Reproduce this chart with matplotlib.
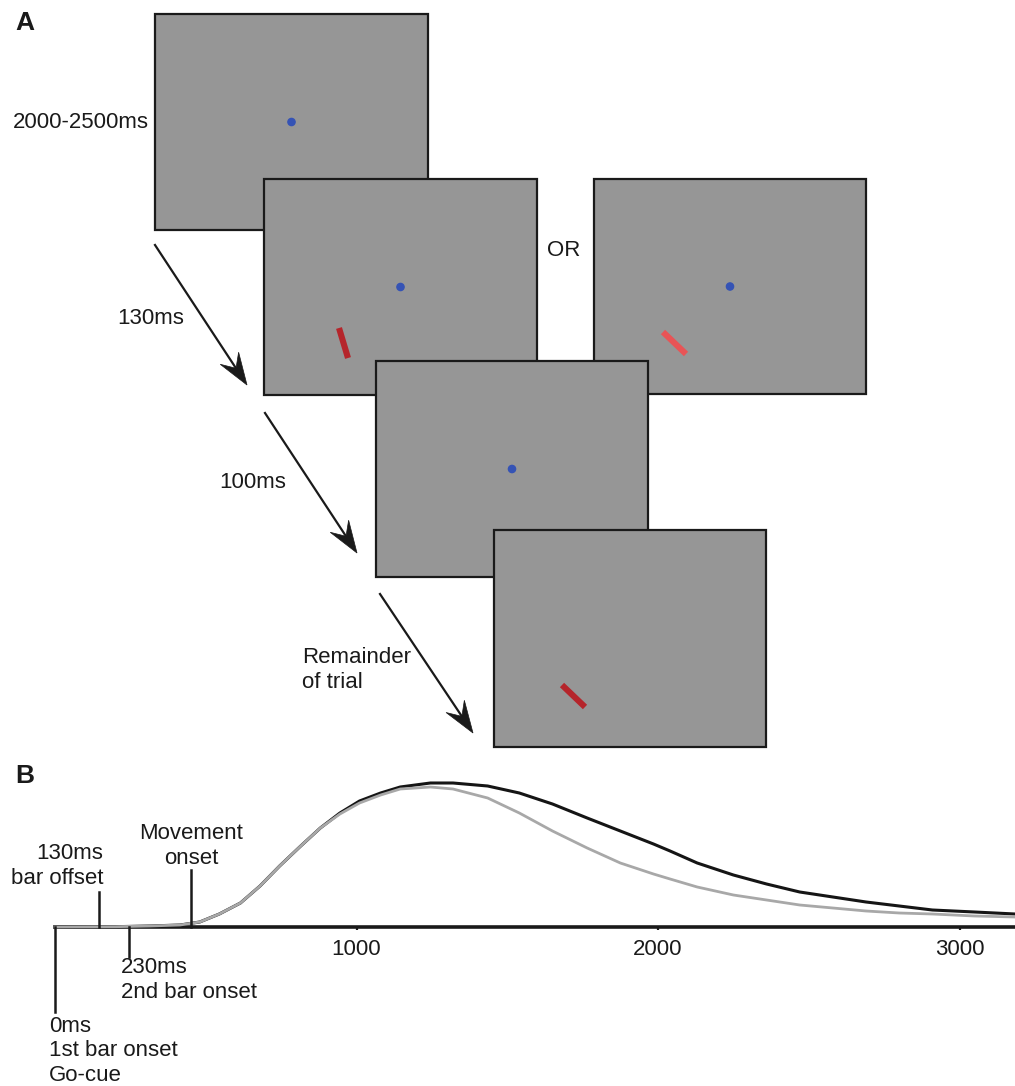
import numpy as np
import matplotlib.pyplot as plt
from matplotlib.patches import Rectangle, Circle, Polygon

plt.rcParams['font.family'] = ['Liberation Sans', 'DejaVu Sans']

W, H = 1015, 1086

# --- Panel A: screens (pixel coordinates of the layout) ---
screen_left = [155, 264, 594, 376, 494]
screen_top = [14, 179, 179, 361, 530]
screen_width = [273, 273, 272, 272, 272]
screen_height = [216, 216, 215, 216, 217]
screen_has_dot = [True, True, True, True, False]

# stimulus bars: (x0, y0, x1, y1)
bar_x0 = [339, 663, 562]
bar_y0 = [328, 332, 685]
bar_x1 = [348, 686, 585]
bar_y1 = [358, 354, 707]
bar_colors = ['#b5252b', '#e85456', '#b5252b']

# arrows between screens
arrow_x0 = [155, 265, 380]
arrow_y0 = [245, 413, 594]
arrow_x1 = [247, 357, 473]
arrow_y1 = [385, 553, 733]

# --- Panel B: speed profiles ---
time_ms = [0, 200, 315, 415, 480, 545, 615, 680, 745, 815, 880, 945, 1010, 1080,
           1145, 1245, 1320, 1435, 1540, 1650, 1765, 1875, 1985, 2040, 2130, 2250,
           2360, 2470, 2580, 2690, 2800, 2910, 3050, 3184]
speed_black = [0, 0.3, 1, 2, 5, 13, 24, 41, 61, 81, 99, 114, 126, 134,
               140, 144, 144, 141, 134, 123, 109, 96, 83, 76, 64, 52,
               43, 35, 30, 25, 21, 17, 15, 13]
speed_gray = [0, 0.3, 1, 2, 5, 13, 24, 41, 61, 81, 99, 113, 124, 132,
              138, 140, 138, 129, 114, 96, 79, 64, 53, 48, 40, 32,
              27, 22, 19, 16, 14, 13, 11, 10]

tick_values = [1000, 2000, 3000]

# event markers: time, line end (height above axis), label, label position
marker_t = [0, 146, 245, 451]
marker_len = [-85, 35, -30, 57]
label_text = ['0ms\n1st bar onset\nGo-cue', '130ms\nbar offset',
              '230ms\n2nd bar onset', 'Movement\nonset']
label_t = [-20, 160, 219, 451]
label_h = [-124, 61, -53, 81]
label_ha = ['left', 'right', 'left', 'center']

FS = 16
INK = '#1a1a1a'

fig = plt.figure(figsize=(W / 100, H / 100), dpi=100)

axA = fig.add_axes([0, 0, 1, 1])
axA.set_xlim(0, W)
axA.set_ylim(H, 0)
axA.axis('off')

for i in range(len(screen_left)):
    axA.add_patch(Rectangle((screen_left[i], screen_top[i]), screen_width[i], screen_height[i],
                            facecolor='#969696', edgecolor=INK, linewidth=1.6, zorder=2 + i))
    if screen_has_dot[i]:
        cx = screen_left[i] + screen_width[i] / 2
        cy = screen_top[i] + screen_height[i] / 2
        axA.add_patch(Circle((cx, cy), 3.6, color='#3553b5', zorder=2.5 + i))

bar_screen = [1, 2, 4]
for j in range(len(bar_x0)):
    axA.plot([bar_x0[j], bar_x1[j]], [bar_y0[j], bar_y1[j]], color=bar_colors[j],
             linewidth=4.4, solid_capstyle='butt', zorder=2.6 + bar_screen[j])

for k in range(len(arrow_x0)):
    p0 = np.array([arrow_x0[k], arrow_y0[k]], float)
    p1 = np.array([arrow_x1[k], arrow_y1[k]], float)
    u = (p1 - p0) / np.hypot(*(p1 - p0))
    n = np.array([-u[1], u[0]])
    back = p1 - 32 * u
    notch = p1 - 20 * u
    axA.plot([p0[0], notch[0]], [p0[1], notch[1]], color=INK, linewidth=1.6, zorder=10)
    axA.add_patch(Polygon([p1, back + 11 * n, notch, back - 11 * n], closed=True,
                          facecolor=INK, edgecolor=INK, linewidth=0.5, zorder=10))

axA.text(15, 23, 'A', fontsize=19, fontweight='bold', color=INK, va='center', ha='left')
axA.text(13, 123, '2000-2500ms', fontsize=FS, color=INK, va='center', ha='left')
axA.text(184, 318, '130ms', fontsize=FS, color=INK, va='center', ha='right')
axA.text(286, 483, '100ms', fontsize=FS, color=INK, va='center', ha='right')
axA.text(302, 670, 'Remainder\nof trial', fontsize=FS, color=INK, va='center', ha='left',
         linespacing=1.2)
axA.text(564, 251, 'OR', fontsize=FS, color=INK, va='center', ha='center')

# --- Panel B axes: 1 unit in y = 1 pixel, axis line at y px 927 ---
axB = fig.add_axes([55 / W, 0, 960 / W, (H - 760) / H])
axB.patch.set_visible(False)
axB.set_xlim(0, 3184)
axB.set_ylim(-(H - 927), 927 - 760)
for s in ['top', 'right', 'left']:
    axB.spines[s].set_visible(False)
axB.spines['bottom'].set_position(('data', 0))
axB.spines['bottom'].set_linewidth(2.6)
axB.spines['bottom'].set_color(INK)
axB.set_yticks([])
axB.set_xticks(tick_values)
axB.set_xticklabels([str(v) for v in tick_values], fontsize=FS, color=INK)
axB.tick_params(axis='x', length=2.5, width=1.6, color=INK, pad=6, direction='out')

axB.plot(time_ms, speed_black, color='#151515', linewidth=2.2, zorder=3, clip_on=False,
         solid_joinstyle='round')
axB.plot(time_ms, speed_gray, color='#a8a8a8', linewidth=2.0, zorder=3.1, clip_on=False,
         solid_joinstyle='round')

for t, ln in zip(marker_t, marker_len):
    axB.plot([t, t], [0, ln], color=INK, linewidth=1.8, zorder=4, clip_on=False)

for txt, t, h, ha in zip(label_text, label_t, label_h, label_ha):
    axB.text(t, h, txt, fontsize=FS, color=INK, ha=ha, va='center', multialignment=ha,
             linespacing=1.2, clip_on=False)

axB.text(-133, 151, 'B', fontsize=19, fontweight='bold', color=INK, va='center', ha='left')

fig.savefig('out.png', dpi=100)
